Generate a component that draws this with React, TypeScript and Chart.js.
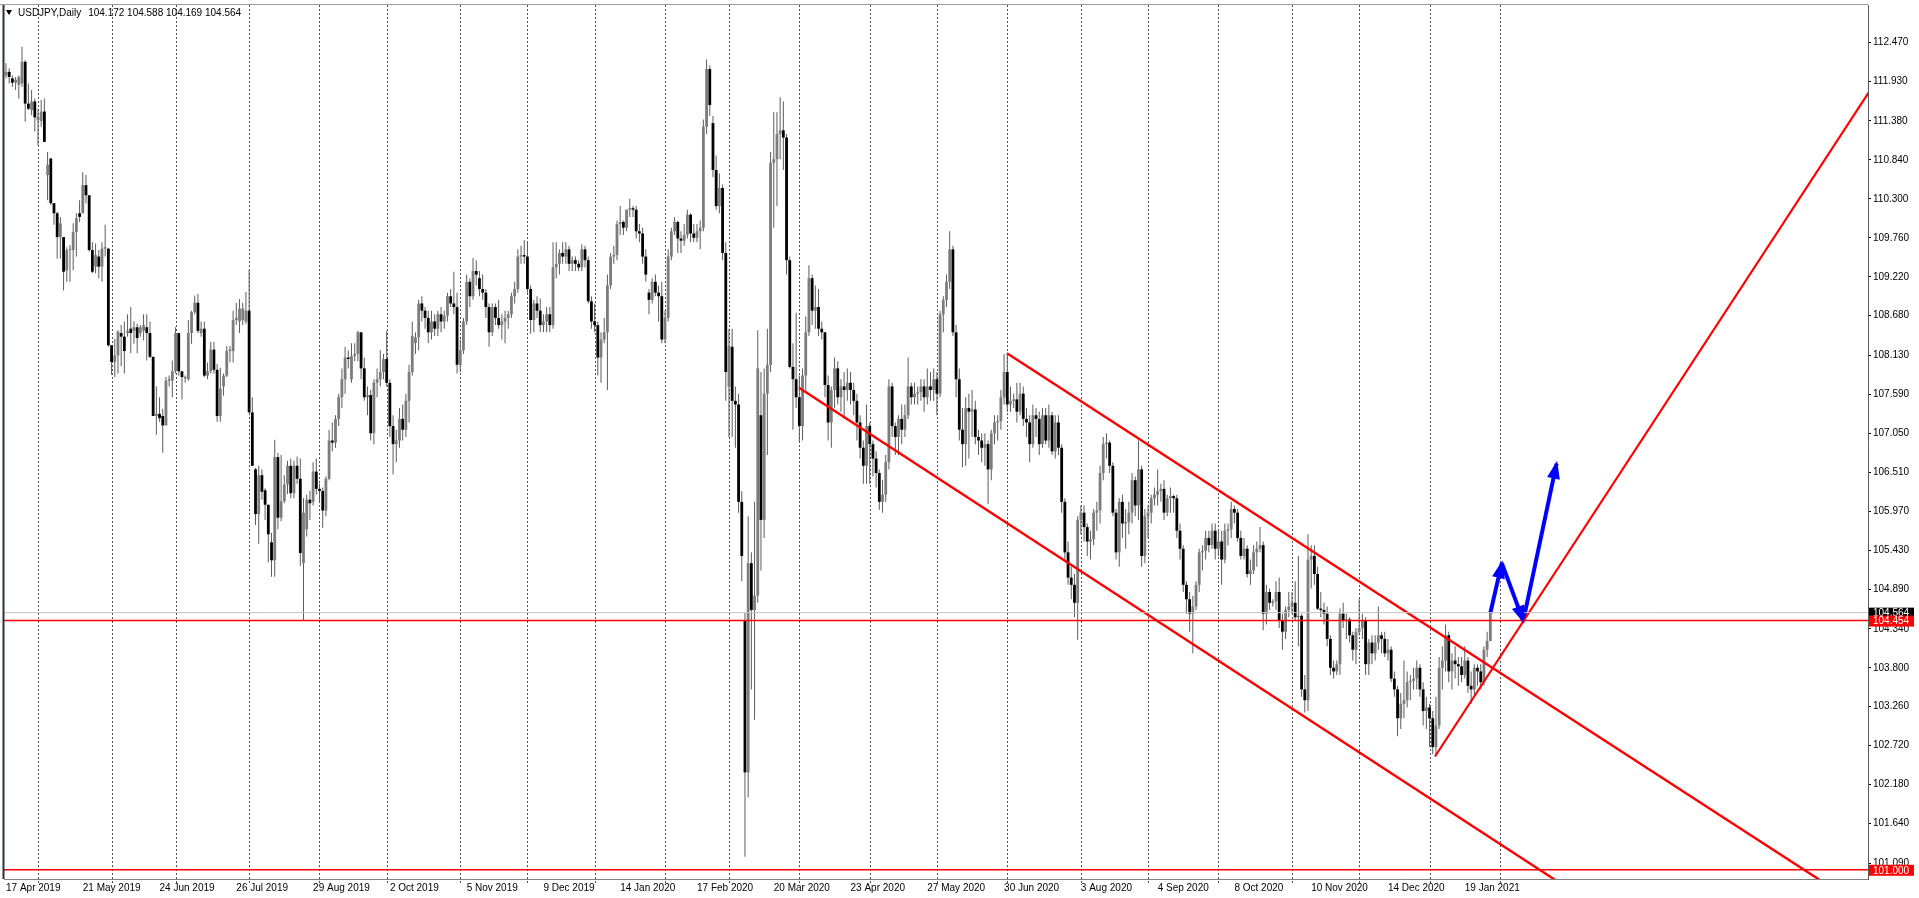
import { useEffect, useRef } from 'react';
import { Chart, registerables } from 'chart.js';

Chart.register(...registerables);

type Bar = [number, number, number, number]; // open, high, low, close

// ---- Daily candles (USDJPY) ----
const APR_2019: Bar[] = [
  [112.01,112.18,111.97,112.06],[112.06,112.11,111.90,111.99],[111.97,112.01,111.85,111.91],[111.91,111.99,111.81,111.95],
  [111.88,112.01,111.69,111.99],[111.90,112.41,111.85,112.20],[112.20,112.22,111.37,111.62],[111.62,111.90,111.53,111.55],
  [111.53,111.81,111.46,111.65],[111.65,111.69,111.23,111.43],
];
const MAY_2019: Bar[] = [
  [111.39,111.55,111.04,111.44],[111.38,111.67,111.30,111.51],[111.51,111.69,111.09,111.09],[110.63,110.95,110.28,110.77],
  [110.86,110.86,110.21,110.24],[110.24,110.24,109.94,110.10],[110.10,110.12,109.47,109.77],[109.77,110.05,109.47,109.96],
  [109.77,109.77,109.03,109.29],[109.31,109.63,109.15,109.59],[109.59,109.66,109.15,109.60],[109.59,109.96,109.31,109.84],
  [109.84,110.10,109.50,110.03],[110.10,110.28,109.98,110.05],[110.10,110.67,110.10,110.49],[110.49,110.63,110.24,110.35],
  [110.35,110.35,109.57,109.59],[109.59,109.70,109.27,109.29],[109.36,109.68,109.27,109.52],[109.50,109.59,109.20,109.36],
  [109.36,109.70,109.15,109.61],[109.61,109.94,109.50,109.63],[109.61,109.61,108.25,108.27],
];
const JUN_2019: Bar[] = [
  [108.27,108.27,107.86,108.04],[108.04,108.36,107.83,108.13],[108.13,108.48,107.88,108.46],[108.44,108.55,107.98,108.39],
  [108.39,108.60,107.88,108.19],[108.44,108.70,108.39,108.47],[108.50,108.80,108.16,108.44],[108.47,108.60,108.29,108.52],
  [108.52,108.57,108.16,108.37],[108.44,108.55,108.39,108.52],[108.47,108.70,108.34,108.55],[108.52,108.70,108.06,108.44],
  [108.44,108.60,108.09,108.11],[108.11,108.11,107.29,107.29],[107.29,107.70,107.03,107.32],[107.32,107.55,107.21,107.26],
  [107.29,107.39,106.78,107.16],[107.16,107.83,107.16,107.78],[107.78,107.85,107.70,107.80],[107.78,108.06,107.55,107.91],
];
const JUL_2019: Bar[] = [
  [107.91,108.52,107.88,108.44],[108.44,108.44,107.85,107.91],[107.91,107.91,107.52,107.83],[107.81,107.85,107.75,107.83],
  [107.80,108.62,107.78,108.44],[108.44,108.75,108.29,108.73],[108.73,108.96,108.70,108.86],[108.86,108.98,108.44,108.47],
  [108.44,108.60,108.39,108.50],[108.50,108.60,107.83,107.85],[107.85,108.03,107.80,107.91],[107.91,108.32,107.88,108.21],
  [108.21,108.32,107.88,107.93],[107.93,108.01,107.21,107.29],[107.29,107.96,107.21,107.67],[107.70,107.88,107.57,107.85],
  [107.85,108.26,107.83,108.19],[108.19,108.26,108.03,108.21],[108.19,108.75,108.03,108.62],[108.62,108.86,108.55,108.65],
  [108.60,108.91,108.44,108.78],[108.62,108.86,108.55,108.78],[108.60,109.01,108.57,108.75],
];
const AUG_2019: Bar[] = [
  [108.75,109.32,107.34,107.34],[107.34,107.55,106.60,106.60],[106.55,106.57,105.78,105.93],[105.93,106.60,105.52,106.47],
  [106.47,106.55,106.13,106.24],[106.26,106.29,105.85,106.06],[106.06,106.06,105.26,105.65],[105.54,105.67,105.06,105.29],
  [105.29,106.96,105.06,106.72],[106.72,106.78,105.72,105.88],[105.88,106.75,105.83,106.11],[106.11,106.47,106.08,106.34],
  [106.34,106.67,106.21,106.60],[106.60,106.70,106.15,106.22],[106.22,106.67,106.15,106.60],[106.60,106.73,106.35,106.42],
  [106.42,106.70,105.21,105.39],[105.25,106.15,104.45,105.95],[105.72,106.20,105.62,106.13],[106.13,106.25,105.85,106.08],
  [106.10,106.65,106.05,106.52],[106.52,106.70,106.20,106.28],
];
const SEP_2019: Bar[] = [
  [106.28,106.35,106.10,106.25],[106.25,106.30,105.74,105.98],[105.98,106.45,105.90,106.42],[106.42,107.10,106.40,106.95],
  [106.95,107.20,106.80,106.92],[106.92,107.30,106.85,107.25],[107.25,107.60,107.15,107.55],[107.55,107.95,107.40,107.80],
  [107.80,108.25,107.60,108.10],[108.10,108.20,107.95,108.08],[107.80,108.30,107.75,108.12],[108.12,108.30,108.05,108.15],
  [108.15,108.47,108.05,108.45],[108.45,108.45,107.80,107.95],[107.95,108.10,107.50,107.55],[107.55,107.70,107.30,107.58],
  [107.58,107.65,106.95,107.05],[107.05,107.80,106.90,107.75],[107.75,107.95,107.55,107.80],[107.80,108.20,107.70,107.90],
  [107.90,108.15,107.80,108.08],
];
const OCT_2019: Bar[] = [
  [108.08,108.47,107.70,107.75],[107.75,107.80,107.00,107.15],[107.15,107.30,106.48,106.90],[106.90,107.10,106.65,106.95],
  [106.95,107.40,106.85,107.25],[107.25,107.45,106.95,107.10],[107.10,107.60,107.00,107.50],[107.50,108.00,107.20,107.90],
  [107.90,108.60,107.85,108.40],[108.30,108.45,108.15,108.38],[108.38,108.90,108.20,108.85],[108.85,108.95,108.60,108.75],
  [108.75,108.80,108.50,108.65],[108.65,108.75,108.30,108.45],[108.45,108.75,108.35,108.60],[108.60,108.70,108.40,108.50],
  [108.50,108.75,108.40,108.70],[108.70,108.80,108.45,108.60],[108.60,108.75,108.50,108.68],[108.68,109.00,108.60,108.95],
  [108.95,109.05,108.80,108.85],[108.85,109.29,108.70,108.80],[108.80,109.00,107.88,108.00],
];
const NOV_2019: Bar[] = [
  [108.00,108.35,107.90,108.20],[108.20,108.65,108.15,108.60],[108.60,109.25,108.55,109.15],[109.15,109.20,108.80,108.95],
  [108.95,109.48,108.90,109.30],[109.30,109.45,109.10,109.25],[109.20,109.30,108.95,109.05],[109.05,109.25,108.90,109.00],
  [109.00,109.05,108.65,108.80],[108.80,108.85,108.25,108.45],[108.45,108.85,108.40,108.80],[108.80,108.85,108.55,108.65],
  [108.65,108.90,108.50,108.55],[108.55,108.70,108.35,108.60],[108.60,108.75,108.30,108.65],[108.65,108.75,108.50,108.70],
  [108.70,109.00,108.65,108.95],[108.95,109.15,108.85,109.05],[109.05,109.60,109.00,109.50],[109.50,109.65,109.40,109.52],
  [109.52,109.73,109.40,109.50],
];
const DEC_2019: Bar[] = [
  [109.50,109.70,109.00,109.05],[109.05,109.10,108.43,108.62],[108.62,108.90,108.45,108.85],[108.85,108.95,108.65,108.75],
  [108.75,108.92,108.45,108.55],[108.55,108.70,108.45,108.60],[108.60,108.80,108.45,108.70],[108.70,108.80,108.45,108.55],
  [108.55,109.70,108.50,109.35],[109.35,109.70,109.20,109.40],[109.40,109.60,109.25,109.55],[109.55,109.70,109.40,109.50],
  [109.50,109.70,109.40,109.60],[109.60,109.65,109.30,109.40],[109.40,109.50,109.30,109.45],[109.45,109.50,109.30,109.40],
  [109.40,109.45,109.30,109.35],[109.35,109.67,109.30,109.60],[109.60,109.65,109.35,109.45],[109.45,109.50,108.85,108.88],
  [108.88,108.95,108.50,108.60],
];
const JAN_2020: Bar[] = [
  [108.60,108.85,108.45,108.55],[108.55,108.60,107.85,108.10],[108.10,108.45,107.75,108.35],[108.35,108.65,108.30,108.45],
  [108.45,109.25,107.65,109.10],[109.10,109.55,109.05,109.50],[109.50,109.65,109.40,109.52],[109.52,110.00,109.45,109.95],
  [109.95,110.20,109.80,109.98],[109.98,110.00,109.80,109.90],[109.90,110.15,109.85,110.15],[110.15,110.30,110.05,110.17],
  [110.17,110.20,110.05,110.15],[110.15,110.20,109.75,109.85],[109.85,109.95,109.70,109.82],[109.82,109.90,109.40,109.50],
  [109.50,109.60,109.15,109.25],[109.00,109.05,108.70,108.90],[108.90,109.20,108.85,109.15],[109.15,109.25,108.95,109.00],
  [109.00,109.10,108.60,108.95],[108.95,109.15,108.30,108.35],
];
const FEB_2020: Bar[] = [
  [108.35,108.75,108.30,108.65],[108.65,109.60,108.60,109.50],[109.50,109.90,109.45,109.85],[109.85,110.05,109.80,109.98],
  [109.98,110.00,109.55,109.75],[109.75,109.85,109.55,109.72],[109.72,109.95,109.65,109.80],[109.80,110.15,109.75,110.08],
  [110.08,110.10,109.70,109.82],[109.82,109.95,109.70,109.76],[109.76,109.95,109.70,109.85],[109.85,110.00,109.60,109.90],
  [109.90,111.40,109.85,111.30],[111.30,112.23,111.20,112.10],[112.10,112.15,111.45,111.60],[111.35,111.45,110.60,110.70],
  [110.70,110.90,110.15,110.20],[110.20,110.65,110.10,110.45],[110.45,110.50,109.45,109.55],[109.55,109.70,107.50,107.90],
];
const MAR_2020: Bar[] = [
  [107.70,108.50,107.00,108.25],[108.25,108.50,107.00,107.50],[107.50,107.70,106.85,107.45],[107.45,107.60,105.95,106.10],
  [106.10,106.25,105.00,105.35],[104.45,104.56,101.18,102.35],[102.35,105.90,102.00,105.25],[105.25,105.40,103.50,104.60],
  [104.60,106.10,103.08,104.80],[104.80,108.48,104.70,107.95],[107.30,107.90,105.15,105.85],[105.85,107.95,105.60,107.60],
  [107.60,108.50,106.75,108.00],[108.00,110.95,107.90,110.80],[110.80,111.50,109.90,110.85],[110.85,111.50,110.20,111.20],
  [111.20,111.71,110.85,111.25],[111.25,111.65,110.70,111.15],[111.15,111.20,109.25,109.45],[109.45,109.50,107.95,107.97],
  [107.97,108.30,107.10,107.80],[107.80,108.72,107.40,107.55],
];
const APR_2020: Bar[] = [
  [107.55,107.85,106.92,107.15],[107.15,107.95,106.95,107.85],[107.85,108.67,107.65,108.45],[108.45,109.38,108.40,109.20],
  [109.20,109.25,108.55,108.75],[108.75,109.10,108.50,108.80],[108.80,109.05,108.40,108.50],[108.50,108.60,108.35,108.45],
  [108.45,108.45,107.55,107.72],[107.72,107.85,106.95,107.20],[107.20,107.70,106.85,107.65],[107.65,108.10,107.40,107.95],
  [107.95,108.05,107.45,107.55],[107.55,107.80,107.35,107.70],[107.70,107.90,107.25,107.65],[107.65,107.95,107.50,107.75],
  [107.75,107.90,107.45,107.65],[107.65,107.75,107.30,107.50],[107.50,107.60,106.95,107.20],[107.20,107.30,106.70,106.85],
  [106.85,106.95,106.35,106.60],[106.60,107.45,106.35,107.15],
];
const MAY_2020: Bar[] = [
  [107.15,107.20,106.35,106.90],[106.90,106.95,106.45,106.70],[106.70,106.80,106.30,106.50],[106.50,106.55,105.99,106.10],
  [106.10,106.40,105.95,106.20],[106.20,106.75,106.10,106.65],[106.65,107.80,106.55,107.70],[107.70,107.75,107.00,107.15],
  [107.15,107.20,106.75,107.00],[107.00,107.30,106.75,107.25],[107.25,107.45,106.90,107.10],[107.10,107.45,107.00,107.30],
  [107.30,108.10,107.25,107.70],[107.70,107.75,107.45,107.55],[107.55,107.75,107.45,107.60],[107.60,107.70,107.45,107.62],
  [107.62,107.80,107.50,107.70],[107.70,107.80,107.35,107.55],[107.55,107.95,107.45,107.70],[107.70,107.90,107.50,107.65],
  [107.65,107.95,107.50,107.80],
];
const JUN_2020: Bar[] = [
  [107.80,107.90,107.30,107.60],[107.60,108.75,107.55,108.70],[108.70,108.95,108.45,108.90],[108.90,109.25,108.80,109.15],
  [109.15,109.85,109.05,109.60],[109.60,109.65,108.40,108.45],[108.45,108.55,107.55,107.80],[107.80,107.95,106.95,107.10],
  [107.10,107.40,106.58,106.90],[106.90,107.55,106.60,107.40],[107.40,107.60,106.70,107.35],[107.35,107.65,107.00,107.38],
  [107.38,107.50,106.90,107.00],[107.00,107.10,106.75,106.95],[106.95,107.05,106.65,106.85],[106.85,107.05,106.60,106.90],
  [106.90,106.95,106.07,106.55],[106.55,107.10,106.40,107.05],[107.05,107.30,106.90,107.20],[107.20,107.30,106.95,107.22],
  [107.22,107.65,107.10,107.55],[107.55,108.15,107.45,107.90],
];
const JUL_2020: Bar[] = [
  [107.90,108.16,107.35,107.45],[107.45,107.70,107.35,107.50],[107.50,107.60,107.40,107.52],[107.52,107.75,107.20,107.35],
  [107.35,107.75,107.30,107.60],[107.60,107.70,107.15,107.25],[107.25,107.40,107.00,107.20],[107.20,107.30,106.65,106.90],
  [106.90,107.45,106.85,107.30],[107.30,107.40,107.00,107.25],[107.25,107.35,106.75,106.90],[106.90,107.40,106.85,107.30],
  [107.30,107.40,106.90,106.95],[106.95,107.45,106.85,107.30],[107.30,107.35,106.75,106.80],[106.80,107.30,106.70,107.20],
  [107.20,107.30,106.75,106.85],[106.85,106.90,105.95,106.10],[106.10,106.15,105.30,105.40],[105.40,105.55,104.95,105.05],
  [105.05,105.20,104.75,104.95],[104.95,105.10,104.50,104.70],[104.70,105.90,104.19,105.85],
];
const AUG_2020: Bar[] = [
  [105.85,106.05,105.65,105.95],[105.95,106.05,105.55,105.75],[105.75,105.80,105.35,105.55],[105.55,105.70,105.30,105.58],
  [105.58,106.00,105.50,105.95],[105.95,106.10,105.70,105.98],[105.98,106.60,105.80,106.50],[106.50,107.00,106.40,106.90],
  [106.90,107.05,106.70,106.92],[106.92,106.95,106.50,106.60],[106.60,106.65,105.90,105.95],[105.95,106.00,105.30,105.40],
  [105.40,106.15,105.20,106.10],[106.10,106.20,105.60,105.80],[105.80,106.00,105.45,105.82],[105.82,106.10,105.65,105.95],
  [105.95,106.50,105.80,106.40],[106.40,106.45,105.90,106.05],[106.05,106.95,105.85,106.55],[106.55,106.60,105.20,105.35],
  [105.35,106.00,105.25,105.90],
];
const SEP_2020: Bar[] = [
  [105.90,106.05,105.60,105.95],[105.95,106.20,105.80,106.15],[106.15,106.30,106.05,106.20],[106.20,106.55,106.05,106.25],
  [106.25,106.35,106.10,106.28],[106.28,106.40,105.85,105.95],[105.95,106.20,105.90,106.15],[106.15,106.30,105.95,106.18],
  [106.18,106.20,105.95,106.15],[106.15,106.20,105.60,105.70],[105.70,105.80,105.30,105.45],[105.45,105.50,104.85,104.95],
  [104.95,105.00,104.55,104.75],[104.75,104.85,104.30,104.55],[104.55,104.80,104.00,104.65],[104.65,105.00,104.60,104.95],
  [104.95,105.45,104.85,105.40],[105.40,105.50,105.15,105.42],[105.42,105.70,105.30,105.60],[105.60,105.70,105.40,105.50],
  [105.50,105.80,105.45,105.70],[105.70,105.80,105.30,105.45],
];
const OCT_2020: Bar[] = [
  [105.45,105.70,105.35,105.55],[105.55,105.70,104.95,105.30],[105.30,105.80,105.25,105.70],[105.70,105.80,105.50,105.72],
  [105.72,106.10,105.60,106.00],[106.00,106.05,105.80,105.95],[105.95,106.00,105.55,105.60],[105.60,105.70,105.30,105.35],
  [105.35,105.60,105.30,105.45],[105.45,105.50,105.05,105.10],[105.10,105.30,104.95,105.15],[105.15,105.50,105.10,105.40],
  [105.40,105.55,105.20,105.45],[105.45,105.75,105.40,105.50],[105.50,105.55,104.32,104.55],[104.55,104.95,104.40,104.85],
  [104.85,104.90,104.60,104.70],[104.70,104.75,104.65,104.72],[104.72,105.00,104.60,104.85],[104.85,105.05,104.35,104.45],
  [104.45,104.55,104.05,104.30],[104.30,104.65,104.20,104.60],[104.60,104.85,104.50,104.65],
];
const NOV_2020: Bar[] = [
  [104.65,104.85,104.55,104.70],[104.70,105.00,104.45,104.50],[104.50,105.35,104.10,104.52],[104.52,104.55,103.40,103.50],
  [103.50,103.70,103.18,103.35],[103.35,105.65,103.20,105.30],[105.30,105.50,104.90,105.35],[105.35,105.50,104.95,105.10],
  [105.10,105.20,104.60,104.62],[104.62,104.85,104.50,104.60],[104.60,104.70,104.40,104.55],[104.55,104.65,104.10,104.20],
  [104.20,104.25,103.70,103.80],[103.80,103.90,103.65,103.75],[103.75,103.90,103.70,103.85],[103.85,104.62,103.70,104.55],
  [104.55,104.70,104.35,104.45],[104.45,104.55,104.20,104.47],[104.47,104.50,104.15,104.25],[104.25,104.30,103.90,104.05],
  [104.05,104.35,103.85,104.30],
];
const DEC_2020: Bar[] = [
  [104.30,104.75,104.25,104.35],[104.35,104.55,104.20,104.45],[104.45,104.50,103.70,103.85],[103.85,104.20,103.70,104.15],
  [104.15,104.25,103.85,104.00],[104.00,104.25,103.90,104.15],[104.15,104.65,104.05,104.25],[104.25,104.30,104.00,104.20],
  [104.20,104.30,103.95,104.00],[104.00,104.20,103.90,104.05],[104.05,104.10,103.60,103.65],[103.65,103.75,103.40,103.50],
  [103.50,103.55,102.85,103.10],[103.10,103.45,102.95,103.30],[103.30,103.90,103.10,103.35],[103.35,103.75,103.25,103.60],
  [103.60,103.70,103.35,103.62],[103.62,103.80,103.50,103.65],[103.65,103.90,103.50,103.80],[103.80,103.85,103.40,103.50],
  [103.50,103.60,103.00,103.20],[103.20,103.40,102.95,103.25],
];
const JAN_2021: Bar[] = [
  [103.25,103.30,102.70,103.10],[103.10,103.20,102.60,102.70],[102.70,103.40,102.59,103.00],[103.00,103.95,102.95,103.80],
  [103.80,104.10,103.50,103.90],[103.90,104.40,103.75,104.25],[104.25,104.30,103.60,103.75],[103.75,104.00,103.50,103.90],
  [103.90,104.10,103.65,103.85],[103.85,103.95,103.55,103.82],[103.82,103.95,103.60,103.70],[103.70,104.10,103.65,103.90],
  [103.90,103.95,103.45,103.55],[103.55,103.75,103.30,103.50],[103.50,103.85,103.40,103.80],[103.80,103.85,103.55,103.75],
  [103.75,103.85,103.50,103.60],[103.60,104.10,103.55,104.05],[104.05,104.30,103.95,104.17],[104.17,104.59,104.17,104.56],
];

const MONTHS: Bar[][] = [
  APR_2019, MAY_2019, JUN_2019, JUL_2019, AUG_2019, SEP_2019, OCT_2019, NOV_2019, DEC_2019,
  JAN_2020, FEB_2020, MAR_2020, APR_2020, MAY_2020, JUN_2020, JUL_2020, AUG_2020, SEP_2020, OCT_2020, NOV_2020, DEC_2020,
  JAN_2021,
];

// ---- Axis text ----
const DATE_LABELS = [
  '17 Apr 2019', '21 May 2019', '24 Jun 2019', '26 Jul 2019', '29 Aug 2019', '2 Oct 2019', '5 Nov 2019', '9 Dec 2019',
  '14 Jan 2020', '17 Feb 2020', '20 Mar 2020', '23 Apr 2020', '27 May 2020', '30 Jun 2020', '3 Aug 2020', '4 Sep 2020',
  '8 Oct 2020', '10 Nov 2020', '14 Dec 2020', '19 Jan 2021',
];
const LABEL_BARS = [0, 24, 48, 72, 96, 120, 144, 168, 192, 216, 240, 264, 288, 312, 336, 360, 384, 408, 432, 456];
const SEPARATOR_BARS = [10, 33, 53, 76, 98, 119, 142, 163, 184, 206, 226, 248, 270, 291, 313, 336, 357, 379, 402, 423, 445, 467];
const PRICE_TICKS = [
  112.47, 111.93, 111.38, 110.84, 110.30, 109.76, 109.22, 108.68, 108.13, 107.59, 107.05,
  106.51, 105.97, 105.43, 104.89, 104.34, 103.80, 103.26, 102.72, 102.18, 101.64, 101.09,
];

// ---- Levels and drawn objects (bar index, price) ----
const SUPPORT_LEVEL = 104.454;
const TARGET_LEVEL = 101.0;
const BID_PRICE = 104.564;
const HEADER_SYMBOL = 'USDJPY,Daily';
const HEADER_OHLC = ['104.172', '104.588', '104.169', '104.564'];
const CHANNEL_UPPER: [number, number][] = [[312.9, 108.16], [600, 99.91]];
const CHANNEL_LOWER: [number, number][] = [[247.9, 107.68], [600, 97.52]];
const RISING_LINE: [number, number][] = [[446.7, 102.57], [600, 112.98]];
const ARROW_PATH: [number, number][] = [[464.0, 104.56], [467.6, 105.25], [474.3, 104.45], [484.7, 106.63]];

const X_MIN = -0.625;
const X_MAX = 582.06;
const Y_MIN = 100.872;
const Y_MAX = 112.987;

const FONT = "'Liberation Sans', Arial, sans-serif";
const BULL = '#7c7c7c';
const BEAR = '#000000';
const WICK = '#5c5c5c';
const RED = '#ff0000';
const BLUE = '#0000ff';

const mt4Plugin = {
  id: 'mt4',
  beforeDatasetsDraw(chart: any) {
    const { ctx, chartArea: a, scales } = chart;
    const x = scales.x;
    ctx.save();
    ctx.strokeStyle = '#505050';
    ctx.lineWidth = 1;
    ctx.setLineDash([2, 2]);
    SEPARATOR_BARS.forEach((b) => {
      const px = Math.round(x.getPixelForValue(b)) + 0.5;
      ctx.beginPath();
      ctx.moveTo(px, a.top);
      ctx.lineTo(px, a.bottom + 4);
      ctx.stroke();
    });
    ctx.restore();
  },
  afterDatasetsDraw(chart: any) {
    const { ctx, chartArea: a, scales } = chart;
    const x = scales.x;
    const y = scales.y;
    ctx.save();
    ctx.beginPath();
    ctx.rect(a.left, a.top, a.right - a.left, a.bottom - a.top);
    ctx.clip();
    ctx.fillStyle = BLUE;
    for (let k = 1; k < ARROW_PATH.length; k++) {
      const x0 = x.getPixelForValue(ARROW_PATH[k - 1][0]);
      const y0 = y.getPixelForValue(ARROW_PATH[k - 1][1]);
      const x1 = x.getPixelForValue(ARROW_PATH[k][0]);
      const y1 = y.getPixelForValue(ARROW_PATH[k][1]);
      const len = Math.hypot(x1 - x0, y1 - y0);
      const dx = (x1 - x0) / len;
      const dy = (y1 - y0) / len;
      const ax = x1 + dx * 3;
      const ay = y1 + dy * 3;
      const bx = ax - dx * 18;
      const by = ay - dy * 18;
      const hw = 6.5;
      ctx.beginPath();
      ctx.moveTo(ax, ay);
      ctx.lineTo(bx - dy * hw, by + dx * hw);
      ctx.lineTo(bx + dy * hw, by - dx * hw);
      ctx.closePath();
      ctx.fill();
    }
    ctx.restore();
  },
  afterDraw(chart: any) {
    const { ctx, chartArea: a, scales } = chart;
    const y = scales.y;
    ctx.save();
    // frame
    ctx.strokeStyle = '#a0a0a0';
    ctx.lineWidth = 1;
    ctx.beginPath();
    ctx.moveTo(0, a.top - 0.5);
    ctx.lineTo(a.right, a.top - 0.5);
    ctx.stroke();
    ctx.strokeStyle = '#22343c';
    ctx.lineWidth = 2;
    ctx.beginPath();
    ctx.moveTo(3.5, a.top);
    ctx.lineTo(3.5, a.bottom);
    ctx.stroke();

    // header
    ctx.fillStyle = '#000';
    ctx.beginPath();
    ctx.moveTo(6, 10);
    ctx.lineTo(12, 10);
    ctx.lineTo(9, 15);
    ctx.closePath();
    ctx.fill();
    ctx.font = `10px ${FONT}`;
    ctx.textBaseline = 'middle';
    ctx.textAlign = 'left';
    ctx.fillText(HEADER_SYMBOL, 18, 13);
    const symEnd = 18 + ctx.measureText(HEADER_SYMBOL).width;
    ctx.fillText(HEADER_OHLC.join(' '), Math.max(83, symEnd + 7), 13);

    // price boxes on the axis
    const box = (price: number, bg: string, h: number, dyOff: number) => {
      const py = y.getPixelForValue(price) + dyOff;
      ctx.fillStyle = bg;
      ctx.fillRect(a.right + 1, py - h / 2, 45, h);
      ctx.fillStyle = '#ffffff';
      ctx.fillText(price.toFixed(3), a.right + 5, py + 0.5);
    };
    box(BID_PRICE, '#000000', 10, 0);
    box(SUPPORT_LEVEL, RED, 11, 0.5);
    box(TARGET_LEVEL, RED, 11, 0.5);
    ctx.restore();
  },
};

function lineSet(pts: [number, number][], color: string, width: number) {
  return {
    type: 'line' as const,
    data: pts.map(([px, py]) => ({ x: px, y: py })),
    borderColor: color,
    backgroundColor: color,
    borderWidth: width,
    pointRadius: 0,
    pointHoverRadius: 0,
    fill: false,
    tension: 0,
    borderCapStyle: 'butt' as const,
    order: 0,
  };
}

export default function App() {
  const ref = useRef<HTMLCanvasElement>(null);

  useEffect(() => {
    document.body.style.margin = '0';
    const canvas = ref.current;
    if (!canvas) return;
    const candles = MONTHS.flat();
    const wicks = candles.map((c, i) => ({ x: i, y: [c[2], c[1]] }));
    const bodies = candles.map((c, i) => ({ x: i, y: [c[0], c[3]] }));
    const bodyColors = candles.map((c) => (c[3] >= c[0] ? BULL : BEAR));

    const chart = new Chart(canvas, {
      type: 'bar',
      data: {
        datasets: [
          {
            type: 'bar',
            data: wicks as any,
            backgroundColor: WICK,
            barThickness: 1,
            grouped: false,
            inflateAmount: 0,
            order: 3,
          } as any,
          {
            type: 'bar',
            data: bodies as any,
            backgroundColor: bodyColors,
            barThickness: 2.8,
            grouped: false,
            inflateAmount: 0,
            minBarLength: 1,
            order: 2,
          } as any,
          lineSet([[-10, BID_PRICE], [700, BID_PRICE]], '#c4c4c4', 1),
          lineSet([[-10, SUPPORT_LEVEL], [700, SUPPORT_LEVEL]], RED, 1.5),
          lineSet([[-10, TARGET_LEVEL], [700, TARGET_LEVEL]], RED, 1.5),
          lineSet(CHANNEL_UPPER, RED, 2.4),
          lineSet(CHANNEL_LOWER, RED, 2.4),
          lineSet(RISING_LINE, RED, 2.2),
          lineSet([ARROW_PATH[0], ARROW_PATH[1]], BLUE, 4),
          lineSet([ARROW_PATH[1], ARROW_PATH[2]], BLUE, 4),
          lineSet([ARROW_PATH[2], ARROW_PATH[3]], BLUE, 4),
        ] as any,
      },
      options: {
        responsive: false,
        animation: false,
        devicePixelRatio: 1,
        events: [],
        layout: { padding: { left: 4, top: 5, right: 0, bottom: 0 }, autoPadding: false } as any,
        plugins: { legend: { display: false }, tooltip: { enabled: false }, title: { display: false } },
        scales: {
          x: {
            type: 'linear',
            min: X_MIN,
            max: X_MAX,
            offset: false,
            grid: { display: false, drawTicks: false, offset: false },
            border: { display: true, color: '#808080', width: 1 },
            ticks: {
              autoSkip: false,
              maxRotation: 0,
              minRotation: 0,
              align: 'start',
              padding: 3,
              color: '#000',
              font: { family: FONT, size: 10 },
              callback: (_v: any, i: number) => DATE_LABELS[i],
            },
            afterBuildTicks: (s: any) => {
              s.ticks = LABEL_BARS.map((v) => ({ value: v }));
            },
            afterFit: (s: any) => {
              s.height = 19;
              s.paddingLeft = 0;
              s.paddingRight = 0;
            },
          },
          y: {
            type: 'linear',
            position: 'right',
            min: Y_MIN,
            max: Y_MAX,
            grid: { drawOnChartArea: false, drawTicks: true, tickLength: 3, color: '#000', lineWidth: 1 },
            border: { display: true, color: '#5a5a5a', width: 1 },
            ticks: {
              autoSkip: false,
              padding: 2,
              color: '#000',
              font: { family: FONT, size: 10 },
              callback: (v: any) => Number(v).toFixed(3),
            },
            afterBuildTicks: (s: any) => {
              s.ticks = PRICE_TICKS.map((v) => ({ value: v }));
            },
            afterFit: (s: any) => {
              s.width = 51;
              s.paddingTop = 0;
              s.paddingBottom = 0;
            },
          },
        },
      } as any,
      plugins: [mt4Plugin],
    });
    return () => chart.destroy();
  }, []);

  return <canvas ref={ref} width={1919} height={898} style={{ display: 'block' }} />;
}
